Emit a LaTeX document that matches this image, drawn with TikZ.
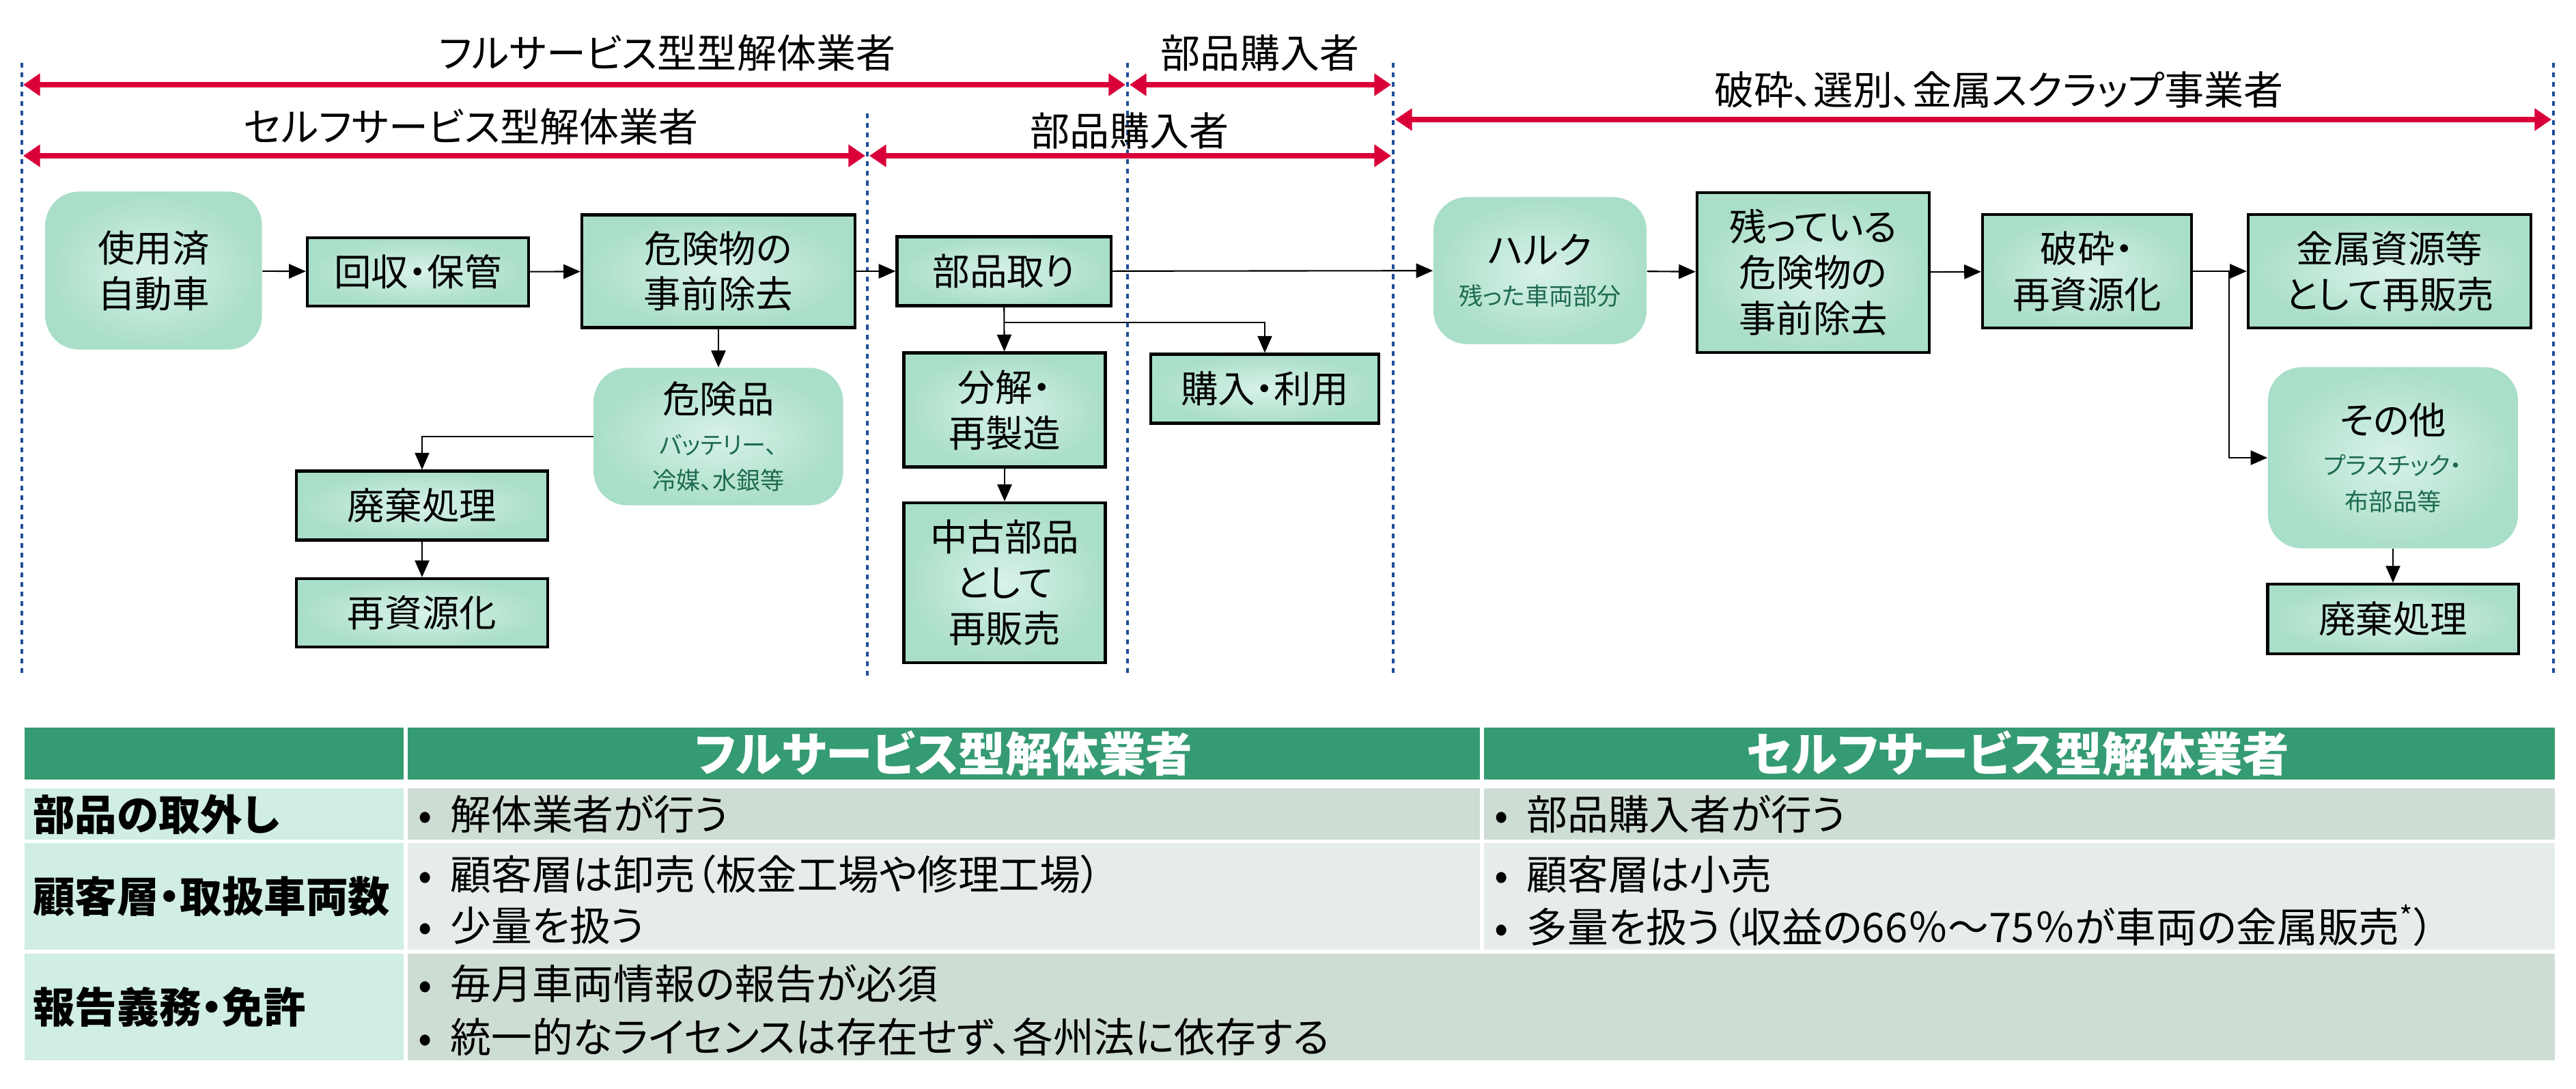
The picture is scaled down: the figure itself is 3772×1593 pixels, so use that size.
\documentclass[tikz,border=0pt]{standalone}
\usepackage{fontspec}
\setmainfont[RawFeature=+palt]{Noto Sans CJK JP}
\usetikzlibrary{arrows.meta}
\definecolor{redline}{HTML}{D9003A}
\definecolor{blueline}{HTML}{1F4E9A}
\definecolor{mintin}{HTML}{D8F2E8}
\definecolor{mintout}{HTML}{A9DEC8}
\definecolor{subgreen}{HTML}{1E6B50}
\definecolor{headgreen}{HTML}{359B72}
\definecolor{leftcol}{HTML}{D0EEE2}
\definecolor{rowdark}{HTML}{CEDDD4}
\definecolor{rowlight}{HTML}{E6EDE9}
\begin{document}
\begin{tikzpicture}[x=0.01cm,y=-0.01cm,
  box/.style={draw,line width=1.2pt,inner color=mintin,outer color=mintout,align=center,font=\fontsize{15.5}{19}\selectfont},
  rbox/.style={rectangle,rounded corners=14pt,inner color=mintin,outer color=mintout,align=center,font=\fontsize{15.5}{19}\selectfont},
  flow/.style={-{Triangle[length=7pt,width=6pt]},line width=0.6pt},
  span/.style={{Triangle[length=7pt,width=9pt]}-{Triangle[length=7pt,width=9pt]},line width=2.4pt,redline},
  sep/.style={blueline,line width=1pt,dash pattern=on 2pt off 2pt},
  lbl/.style={font=\fontsize{16.5}{18}\selectfont},
  tb/.style={font=\fontsize{17}{20}\selectfont,anchor=west},
  th/.style={font=\bfseries\fontsize{19.5}{22}\selectfont,text=white},
  tl/.style={font=\bfseries\fontsize{17.5}{20}\selectfont,anchor=west}]
\newcommand\subtxt[1]{{\fontsize{10}{12}\selectfont\color{subgreen}#1}}
\useasboundingbox (0,0) rectangle (3772,1593);

% dotted separators
\draw[sep] (32,92) -- (32,989);
\draw[sep] (1270,166) -- (1270,989);
\draw[sep] (1651,92) -- (1651,989);
\draw[sep] (2040,92) -- (2040,989);
\draw[sep] (3739,92) -- (3739,989);

% span arrows
\coordinate (s1) at (34,124);
\coordinate (s2) at (1648,124);
\coordinate (s3) at (1654,124);
\coordinate (s4) at (2037,124);
\coordinate (t1) at (34,228);
\coordinate (t2) at (1267,228);
\coordinate (t3) at (1273,228);
\coordinate (t4) at (2037,228);
\coordinate (u1) at (2043,175);
\coordinate (u2) at (3736,175);
\draw[span] (s1) -- (s2);
\draw[span] (s3) -- (s4);
\draw[span] (t1) -- (t2);
\draw[span] (t3) -- (t4);
\draw[span] (u1) -- (u2);
\node[lbl] (lfull) at (977,77) {フルサービス型型解体業者};
\node[lbl] (lbuy1) at (1845,77) {部品購入者};
\node[lbl] (lself) at (690,185) {セルフサービス型解体業者};
\node[lbl] (lbuy2) at (1654,191) {部品購入者};
\node[lbl] (lscrap) at (2927,131) {破砕、選別、金属スクラップ事業者};

% flow boxes
\node[rbox,minimum width=3.17cm,minimum height=2.31cm] (car) at (225,396) {使用済\\自動車};
\node[box,minimum width=3.24cm,minimum height=1cm] (kaishu) at (612,398) {回収・保管};
\node[box,minimum width=4cm,minimum height=1.65cm] (kiken) at (1052,397) {危険物の\\事前除去};
\node[box,minimum width=3.13cm,minimum height=1.01cm] (tori) at (1470,397) {部品取り};
\node[rbox,minimum width=3.65cm,minimum height=2.01cm] (kikenhin) at (1052,639) {危険品\\[-2pt]\subtxt{バッテリー、}\\[-4pt]\subtxt{冷媒、水銀等}};
\node[box,minimum width=3.68cm,minimum height=1.01cm] (haiki) at (618,740) {廃棄処理};
\node[box,minimum width=3.68cm,minimum height=1cm] (shigen) at (618,897) {再資源化};
\node[box,minimum width=2.95cm,minimum height=1.67cm] (bunkai) at (1471,600) {分解・\\再製造};
\node[box,minimum width=3.34cm,minimum height=1.01cm] (konyu) at (1852,569) {購入・利用};
\node[box,minimum width=2.95cm,minimum height=2.34cm] (chuko) at (1471,853) {中古部品\\として\\再販売};
\node[rbox,minimum width=3.12cm,minimum height=2.15cm] (hulk) at (2255,396) {ハルク\\[-2pt]\subtxt{残った車両部分}};
\node[box,minimum width=3.4cm,minimum height=2.34cm] (nokori) at (2655,399) {残っている\\危険物の\\事前除去};
\node[box,minimum width=3.06cm,minimum height=1.66cm] (hasai) at (3056,397) {破砕・\\再資源化};
\node[box,minimum width=4.14cm,minimum height=1.66cm] (kinzoku) at (3499,397) {金属資源等\\として再販売};
\node[rbox,minimum width=3.66cm,minimum height=2.65cm] (sonota) at (3504,670) {その他\\[-2pt]\subtxt{プラスチック・}\\[-4pt]\subtxt{布部品等}};
\node[box,minimum width=3.67cm,minimum height=1.02cm] (haiki2) at (3504,906) {廃棄処理};

% connectors
\coordinate (split) at (1470,472);
\coordinate (fork) at (3264,397);
\draw[flow] (car) -- (kaishu);
\draw[flow] (kaishu) -- (kiken);
\draw[flow] (kiken) -- (tori);
\draw[flow] (tori) -- (hulk);
\draw[flow] (kiken) -- (kikenhin);
\draw[flow] (kikenhin.west) -| (haiki);
\draw[flow] (haiki) -- (shigen);
\draw[flow] (tori) -- (bunkai);
\draw[flow] (split) -| (konyu);
\draw[flow] (bunkai) -- (chuko);
\draw[flow] (hulk) -- (nokori);
\draw[flow] (nokori) -- (hasai);
\draw[flow] (hasai) -- (kinzoku);
\draw[flow] (fork) |- (sonota.west);
\draw[flow] (sonota) -- (haiki2);

% table
\fill[headgreen] (36,1065) rectangle (3741,1141);
\fill[leftcol] (36,1154) rectangle (594,1229);
\fill[leftcol] (36,1234) rectangle (594,1390);
\fill[leftcol] (36,1396) rectangle (594,1552);
\fill[rowdark] (594,1154) rectangle (3741,1229);
\fill[rowlight] (594,1234) rectangle (3741,1390);
\fill[rowdark] (594,1396) rectangle (3741,1552);
\draw[white,line width=1.5pt] (594,1065) -- (594,1552);
\draw[white,line width=1.5pt] (2170,1065) -- (2170,1390);
\node[th] (hfull) at (1382,1103) {フルサービス型解体業者};
\node[th] (hself) at (2955,1103) {セルフサービス型解体業者};
\node[tl] (r1) at (36,1192) {部品の取外し};
\node[tl] (r2) at (36,1312) {顧客層・取扱車両数};
\node[tl] (r3) at (36,1474) {報告義務・免許};
\node[tb] (a1) at (600,1192) {•\ \ 解体業者が行う};
\node[tb] (b1) at (2176,1192) {•\ \ 部品購入者が行う};
\node[tb] (a2) at (600,1280) {•\ \ 顧客層は卸売（板金工場や修理工場）};
\node[tb] (a3) at (600,1355) {•\ \ 少量を扱う};
\node[tb] (b2) at (2176,1280) {•\ \ 顧客層は小売};
\node[tb] (b3) at (2176,1355) {•\ \ 多量を扱う（収益の66％～75％が車両の金属販売\textsuperscript{*}）};
\node[tb] (a4) at (600,1440) {•\ \ 毎月車両情報の報告が必須};
\node[tb] (a5) at (600,1518) {•\ \ 統一的なライセンスは存在せず、各州法に依存する};
\end{tikzpicture}
\end{document}
